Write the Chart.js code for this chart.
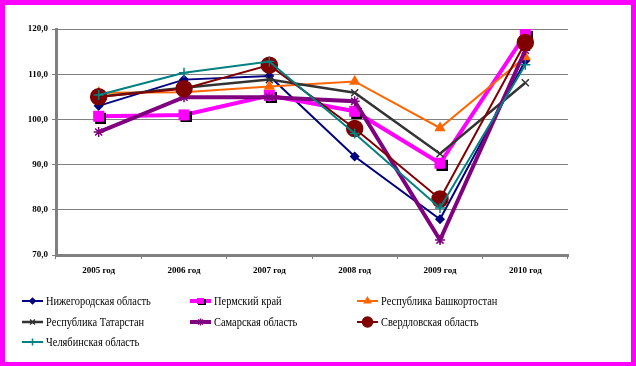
<!DOCTYPE html>
<html>
<head>
<meta charset="utf-8">
<script src="https://cdn.jsdelivr.net/npm/chart.js@4"></script>
<style>
  body { margin: 0; background: #FF00FF; width: 636px; height: 366px; overflow: hidden; }
  #wrap { position: absolute; left: 5px; top: 5px; width: 626px; height: 357px; background: #fff; }
</style>
</head>
<body>
<div id="wrap"><canvas id="chart" width="626" height="357"></canvas></div>
<script>
const years = ["2005 год", "2006 год", "2007 год", "2008 год", "2009 год", "2010 год"];
const seriesNames = [
  "Нижегородская область",
  "Пермский край",
  "Республика Башкортостан",
  "Республика Татарстан",
  "Самарская область",
  "Свердловская область",
  "Челябинская область"
];
const nizhny = [103.0, 108.8, 109.6, 91.8, 77.9, 113.0];
const perm = [100.7, 101.0, 105.3, 101.8, 90.3, 118.8];
const bashkortostan = [105.9, 106.0, 107.3, 108.4, 98.1, 113.8];
const tatarstan = [105.0, 107.0, 108.8, 105.9, 92.4, 108.1];
const samara = [97.2, 104.9, 104.9, 104.0, 73.3, 115.3];
const sverdlovsk = [105.0, 106.8, 112.0, 98.0, 82.4, 117.0];
const chelyabinsk = [105.4, 110.3, 112.8, 96.9, 80.4, 112.1];
const yTicks = [70, 80, 90, 100, 110, 120];

// квадрат с тенью для Пермского края
function shadowSquare(side) {
  const c = document.createElement("canvas");
  c.width = side + 4;
  c.height = side + 4;
  const g = c.getContext("2d");
  g.fillStyle = "#000";
  g.fillRect(4, 4, side, side);
  g.fillStyle = "#FF00FF";
  g.fillRect(2, 2, side, side);
  return c;
}

const styles = [
  { color: "#000080", width: 2, point: "rectRot", radius: 4 },
  { color: "#FF00FF", width: 4, point: shadowSquare(11), radius: 6 },
  { color: "#FF6600", width: 2, point: "triangle", radius: 5 },
  { color: "#333333", width: 2.5, point: "crossRot", radius: 5 },
  { color: "#800080", width: 4, point: "star", radius: 5 },
  { color: "#800000", width: 2, point: "circle", radius: 8 },
  { color: "#008080", width: 2, point: "cross", radius: 5 }
];
const values = [nizhny, perm, bashkortostan, tatarstan, samara, sverdlovsk, chelyabinsk];

const datasets = values.map((data, i) => ({
  label: seriesNames[i],
  data: data,
  borderColor: styles[i].color,
  backgroundColor: styles[i].color,
  borderWidth: styles[i].width,
  pointStyle: styles[i].point,
  pointRadius: styles[i].radius,
  pointHoverRadius: styles[i].radius,
  pointBorderWidth: 1.5,
  tension: 0,
  order: values.length - i
}));

// легенда в три колонки снизу
const legendPlugin = {
  id: "gridLegend",
  afterDraw(chart) {
    const ctx = chart.ctx;
    const colX = [17, 185, 352];
    const rowY = [296, 317, 337];
    chart.data.datasets.forEach((ds, i) => {
      const x = colX[i % 3];
      const y = rowY[Math.floor(i / 3)];
      ctx.save();
      ctx.strokeStyle = ds.borderColor;
      ctx.lineWidth = ds.borderWidth;
      ctx.beginPath();
      ctx.moveTo(x, y);
      ctx.lineTo(x + 21, y);
      ctx.stroke();
      const st = ds.pointStyle;
      ctx.fillStyle = ds.backgroundColor;
      ctx.lineWidth = 1.5;
      if (typeof st === "string") {
        Chart.helpers.drawPoint(ctx, {
          pointStyle: st,
          rotation: 0,
          borderWidth: 1.5,
          radius: Math.min(ds.pointRadius * 0.7, 5)
        }, x + 10.5, y);
      } else {
        ctx.drawImage(st, x + 10.5 - 5, y - 4, 10, 8);
      }
      ctx.fillStyle = "#000";
      ctx.font = "13px 'Liberation Serif'";
      ctx.textBaseline = "middle";
      ctx.translate(x + 24, y);
      ctx.scale(0.8, 1);
      ctx.fillText(ds.label, 0, 1);
      ctx.restore();
    });
  }
};

new Chart(document.getElementById("chart"), {
  type: "line",
  data: { labels: years, datasets: datasets },
  options: {
    responsive: false,
    animation: false,
    layout: { padding: { left: 0, right: 63, top: 24, bottom: 87 } },
    plugins: {
      legend: { display: false },
      tooltip: { enabled: false }
    },
    scales: {
      x: {
        offset: true,
        grid: { drawOnChartArea: false, offset: true, tickLength: 4, color: "#808080" },
        border: { width: 3, color: "#808080" },
        ticks: { color: "#000", padding: 6, font: { family: "Liberation Serif", size: 9, weight: "bold" } },
        afterFit(scale) { scale.height = 20; }
      },
      y: {
        min: 70,
        max: 120,
        afterBuildTicks(scale) { scale.ticks = yTicks.map(v => ({ value: v })); },
        grid: { color: "#808080", lineWidth: 1, tickLength: 4 },
        border: { width: 3, color: "#808080" },
        ticks: {
          color: "#000",
          padding: 4,
          font: { family: "Liberation Serif", size: 9, weight: "bold" },
          callback: v => v.toFixed(1).replace(".", ",")
        },
        afterFit(scale) { scale.width = 51; }
      }
    }
  },
  plugins: [legendPlugin]
});
</script>
</body>
</html>
